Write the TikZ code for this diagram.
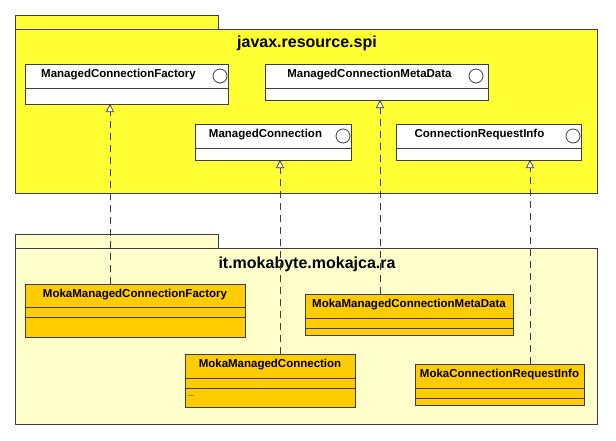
\documentclass[tikz,border=0pt]{standalone}
\usepackage{fontspec}
\setmainfont{Liberation Sans}
\usetikzlibrary{arrows.meta}
\definecolor{pkgA}{RGB}{255,255,51}
\definecolor{pkgB}{RGB}{255,255,204}
\definecolor{cls}{RGB}{255,204,0}
\definecolor{ln}{RGB}{60,60,70}
\begin{document}
\begin{tikzpicture}[x=1pt,y=-1pt,
  box/.style={draw=ln,line width=0.8pt},
  lbl/.style={font=\bfseries\fontsize{11.5}{13}\selectfont,inner sep=0pt},
  ttl/.style={font=\bfseries\fontsize{16}{18}\selectfont,inner sep=0pt},
  real/.style={draw=ln,line width=0.7pt,dash pattern=on 7pt off 5pt,-{Triangle[open,length=8pt,width=8pt,fill=white]}}]
\useasboundingbox[fill=white] (0,0) rectangle (616,440);
% packages
\draw[box,fill=pkgA] (15,15) rectangle (218,29);
\draw[box,fill=pkgA] (15,29) rectangle (597,193);
\node[ttl] (t1) at (307,43) {javax.resource.spi};
\draw[box,fill=pkgB] (15,234) rectangle (218,248);
\draw[box,fill=pkgB] (15,248) rectangle (597,424);
\node[ttl] (t2) at (307,264) {it.mokabyte.mokajca.ra};
% interfaces
\draw[box,fill=white] (25,64) rectangle (228,104); \draw[box] (25,88)--(228,88);
\draw[box] (220,76) circle (7);
\node[lbl] at (118.5,75) {ManagedConnectionFactory};
\coordinate (iMCF) at (110,104);
\draw[box,fill=white] (265,64) rectangle (488,100); \draw[box] (265,88)--(488,88);
\draw[box] (476,76) circle (7);
\node[lbl] at (369.5,75) {ManagedConnectionMetaData};
\coordinate (iMCMD) at (380,100);
\draw[box,fill=white] (195,124) rectangle (351,160); \draw[box] (195,148)--(351,148);
\draw[box] (343,136) circle (7);
\node[lbl] at (265.5,135) {ManagedConnection};
\coordinate (iMC) at (280,160);
\draw[box,fill=white] (396,124) rectangle (581,160); \draw[box] (396,148)--(581,148);
\draw[box] (573,136) circle (7);
\node[lbl] at (479.5,135) {ConnectionRequestInfo};
\coordinate (iCRI) at (530,160);
% classes
\draw[box,fill=cls] (25,284) rectangle (245,337); \draw[box] (25,307)--(245,307); \draw[box] (25,317)--(245,317);
\node[lbl] at (135,295) {MokaManagedConnectionFactory};
\coordinate (cMCF) at (110,284);
\draw[box,fill=cls] (305,294) rectangle (513,335); \draw[box] (305,318)--(513,318); \draw[box] (305,328)--(513,328);
\node[lbl] at (409,305) {MokaManagedConnectionMetaData};
\coordinate (cMCMD) at (380,294);
\draw[box,fill=cls] (185,354) rectangle (355,407); \draw[box] (185,378)--(355,378); \draw[box] (185,388)--(355,388);
\node[lbl] at (270,365) {MokaManagedConnection};
\node[font=\fontsize{8}{9}\selectfont,inner sep=0pt,anchor=west] at (188,396) {...};
\coordinate (cMC) at (280,354);
\draw[box,fill=cls] (415,364) rectangle (584,405); \draw[box] (415,388)--(584,388); \draw[box] (415,398)--(584,398);
\node[lbl] at (499.5,375) {MokaConnectionRequestInfo};
\coordinate (cCRI) at (530,364);
% realizations
\draw[real] (cMCF) -- (iMCF);
\draw[real] (cMCMD) -- (iMCMD);
\draw[real] (cMC) -- (iMC);
\draw[real] (cCRI) -- (iCRI);
\end{tikzpicture}
\end{document}
